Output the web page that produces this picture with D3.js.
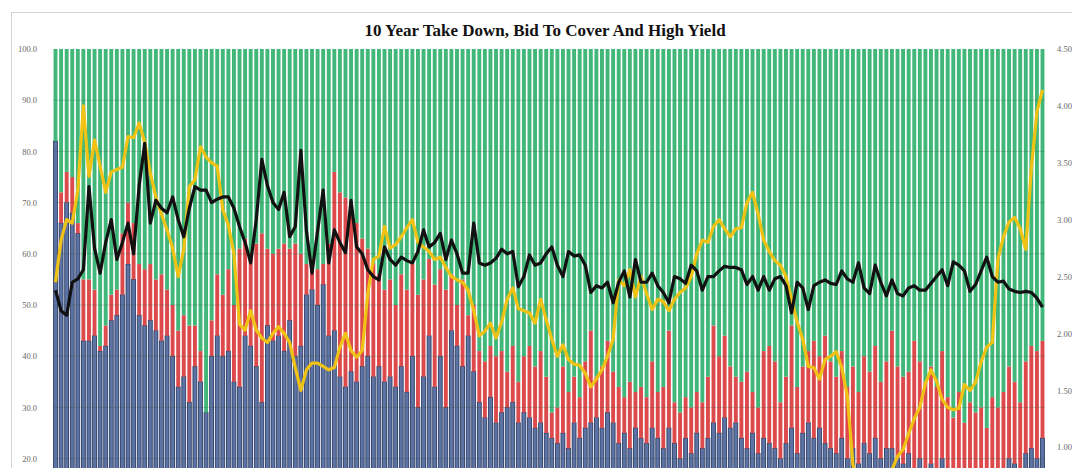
<!DOCTYPE html>
<html>
<head>
<meta charset="utf-8">
<script src="https://cdn.jsdelivr.net/npm/d3@7"></script>
<style>
  html, body { margin: 0; padding: 0; background: #fff; overflow: hidden; }
</style>
</head>
<body>
<div id="chart"></div>
<script>
/* take down shares (%) per 10y auction, oldest first */
const dealers = [
  82, 66, 70, 68, 64, 43, 43, 44, 41, 42,
  47, 48, 52, 58, 55, 48, 46, 47, 45, 43,
  44, 40, 34, 36, 31, 38, 35, 29, 40, 44,
  40, 41, 35, 34, 44, 42, 38, 31, 46, 43,
  44, 41, 47, 40, 42, 52, 53, 50, 54, 44,
  45, 36, 34, 37, 35, 38, 40, 36, 38, 35,
  36, 34, 38, 33, 40, 30, 36, 44, 34, 40,
  30, 45, 42, 38, 44, 37, 31, 28, 32, 27,
  29, 30, 31, 27, 29, 28, 26, 27, 25, 24,
  23, 25, 22, 27, 24, 26, 27, 28, 26, 29,
  27, 23, 25, 22, 26, 24, 23, 26, 24, 22,
  26, 23, 20, 24, 21, 25, 22, 24, 27, 25,
  28, 26, 27, 24, 22, 25, 21, 24, 23, 22,
  20, 23, 26, 21, 25, 27, 24, 26, 23, 22,
  21, 24, 20, 22, 19, 23, 21, 24, 20, 22,
  22, 20, 19, 21, 18, 20, 17, 19, 18, 20,
  16, 15, 17, 14, 16, 15, 16, 14, 17, 15,
  18, 20, 19, 17, 21, 22, 20, 24
];
const directs = [
  0, 6, 6, 7, 2, 12, 12, 9, 1, 4,
  5, 5, 12, 12, 11, 10, 11, 11, 10, 13,
  9, 10, 11, 12, 15, 8, 6, 0, 7, 12,
  12, 16, 15, 27, 19, 18, 24, 33, 15, 17,
  17, 21, 14, 22, 18, 6, 6, 7, 4, 18,
  31, 36, 37, 33, 31, 25, 21, 22, 18, 18,
  19, 16, 18, 20, 18, 22, 19, 15, 20, 17,
  23, 11, 8, 17, 4, 13, 10, 11, 10, 13,
  12, 7, 11, 8, 11, 14, 12, 14, 11, 5,
  7, 13, 11, 9, 8, 13, 18, 8, 12, 14,
  10, 11, 7, 13, 7, 10, 9, 13, 9, 12,
  19, 8, 9, 8, 9, 8, 9, 12, 19, 15,
  16, 12, 9, 11, 15, 8, 9, 17, 19, 17,
  11, 13, 20, 13, 13, 14, 19, 14, 21, 17,
  15, 17, 14, 16, 14, 17, 16, 18, 15, 17,
  23, 18, 17, 16, 25, 19, 18, 19, 16, 21,
  16, 13, 16, 13, 15, 14, 14, 12, 15, 15,
  15, 18, 16, 14, 18, 20, 21, 19
];
const indirects = [
  18, 28, 24, 25, 34, 45, 45, 47, 58, 54,
  48, 47, 36, 30, 34, 42, 43, 42, 45, 44,
  47, 50, 55, 52, 54, 54, 59, 71, 53, 44,
  48, 43, 50, 39, 37, 40, 38, 36, 39, 40,
  39, 38, 39, 38, 40, 42, 41, 43, 42, 38,
  24, 28, 29, 30, 34, 37, 39, 42, 44, 47,
  45, 50, 44, 47, 42, 48, 45, 41, 46, 43,
  47, 44, 50, 45, 52, 50, 59, 61, 58, 60,
  59, 63, 58, 65, 60, 58, 62, 59, 64, 71,
  70, 62, 67, 64, 68, 61, 55, 64, 62, 57,
  63, 66, 68, 65, 67, 66, 68, 61, 67, 66,
  55, 69, 71, 68, 70, 67, 69, 64, 54, 60,
  56, 62, 64, 65, 63, 67, 70, 59, 58, 61,
  69, 64, 54, 66, 62, 59, 57, 60, 56, 61,
  64, 59, 66, 62, 67, 60, 63, 58, 65, 61,
  55, 62, 64, 63, 57, 61, 65, 62, 66, 59,
  68, 72, 67, 73, 69, 71, 70, 74, 68, 70,
  67, 62, 65, 69, 61, 58, 59, 57
];
const bidToCover = [
  2.38, 2.20, 2.16, 2.45, 2.48, 2.56, 3.29, 2.75, 2.53, 2.80,
  3.00, 2.65, 2.80, 2.97, 2.70, 3.30, 3.67, 2.97, 3.17, 3.10,
  3.06, 3.20, 3.00, 2.85, 3.10, 3.29, 3.26, 3.26, 3.15, 3.18,
  3.20, 3.20, 3.10, 2.94, 2.80, 2.62, 3.00, 3.53, 3.30, 3.15,
  3.09, 3.24, 2.85, 2.94, 3.61, 2.90, 2.53, 2.90, 3.26, 2.62,
  2.91, 2.80, 2.71, 3.17, 2.76, 2.70, 2.56, 2.50, 2.47, 2.76,
  2.65, 2.60, 2.67, 2.64, 2.62, 2.72, 2.91, 2.76, 2.80, 2.88,
  2.65, 2.82, 2.70, 2.53, 2.53, 2.97, 2.62, 2.60, 2.62, 2.66,
  2.74, 2.70, 2.72, 2.41, 2.50, 2.69, 2.60, 2.62, 2.70, 2.76,
  2.60, 2.50, 2.72, 2.68, 2.69, 2.60, 2.36, 2.42, 2.40, 2.45,
  2.27, 2.45, 2.55, 2.32, 2.65, 2.45, 2.45, 2.53, 2.42, 2.36,
  2.27, 2.50, 2.48, 2.44, 2.60, 2.55, 2.38, 2.50, 2.50, 2.55,
  2.59, 2.58, 2.58, 2.56, 2.43, 2.50, 2.38, 2.50, 2.38, 2.48,
  2.50, 2.42, 2.18, 2.45, 2.40, 2.21, 2.42, 2.45, 2.47, 2.44,
  2.43, 2.55, 2.48, 2.45, 2.62, 2.40, 2.35, 2.60, 2.45, 2.33,
  2.47, 2.35, 2.33, 2.40, 2.42, 2.38, 2.38, 2.44, 2.50, 2.56,
  2.42, 2.63, 2.60, 2.55, 2.37, 2.43, 2.55, 2.67, 2.50, 2.45,
  2.46, 2.39, 2.37, 2.36, 2.37, 2.36, 2.31, 2.23
];
const highYield = [
  2.45, 2.82, 3.00, 2.97, 3.26, 4.00, 3.38, 3.70, 3.47, 3.24,
  3.42, 3.44, 3.46, 3.73, 3.72, 3.85, 3.68, 3.41, 3.20, 3.05,
  2.91, 2.75, 2.50, 2.74, 3.29, 3.35, 3.64, 3.55, 3.50, 3.47,
  3.09, 2.95, 2.70, 2.08, 2.03, 2.20, 2.03, 1.96, 1.92, 2.00,
  2.06, 2.00, 1.92, 1.70, 1.50, 1.68, 1.74, 1.74, 1.71, 1.68,
  1.70, 1.88, 2.00, 1.85, 1.79, 1.85, 2.35, 2.65, 2.68, 2.94,
  2.75, 2.78, 2.85, 2.93, 3.00, 2.80, 2.76, 2.72, 2.65, 2.67,
  2.58, 2.50, 2.47, 2.45, 2.38, 2.20, 1.98, 2.02, 2.09, 1.96,
  2.10, 2.30, 2.40, 2.22, 2.20, 2.18, 2.09, 2.30, 2.12, 1.95,
  1.80, 1.90, 1.77, 1.73, 1.72, 1.65, 1.53, 1.60, 1.68, 1.80,
  1.95, 2.47, 2.42, 2.56, 2.32, 2.50, 2.35, 2.21, 2.30, 2.28,
  2.20, 2.30, 2.36, 2.40, 2.50, 2.70, 2.82, 2.80, 2.94, 3.00,
  2.92, 2.85, 2.92, 2.93, 3.15, 3.24, 3.05, 2.82, 2.72, 2.64,
  2.60, 2.50, 2.30, 2.10, 1.95, 1.71, 1.70, 1.60, 1.77, 1.80,
  1.84, 1.70, 1.45, 0.85, 0.66, 0.62, 0.65, 0.68, 0.72, 0.70,
  0.80, 0.92, 0.98, 1.12, 1.25, 1.35, 1.56, 1.68, 1.58, 1.42,
  1.35, 1.33, 1.34, 1.55, 1.50, 1.57, 1.75, 1.88, 1.92, 2.65,
  2.85, 2.98, 3.02, 2.92, 2.74, 3.45, 3.95, 4.14
];
// only the ticks that fall inside the visible picture
const leftTicks = [20, 30, 40, 50, 60, 70, 80, 90, 100];
const rightTicks = [1.0, 1.5, 2.0, 2.5, 3.0, 3.5, 4.0, 4.5];
const seriesKeys = ['dealers', 'directs', 'indirects'];
const title = '10 Year Take Down, Bid To Cover And High Yield';

//STYLING
const width = 1072, height = 468;
const plot = { left: 53, right: 1045, top: 49, bottom: 561 };
const colors = { dealers: '#5d73a3', directs: '#dc4a4c', indirects: '#41b779' };
const strokes = { dealers: '#22335d', directs: 'none', indirects: 'none' };

const rows = dealers.map((d, i) => ({
  idx: i, dealers: d, directs: directs[i], indirects: indirects[i]
}));

const svg = d3.select('#chart').append('svg')
  .attr('width', width)
  .attr('height', height)
  .style('display', 'block')
  .style('font-family', '"Liberation Serif", "DejaVu Serif", serif');

// frame
svg.append('rect')
  .attr('x', 11.5).attr('y', 12.5)
  .attr('width', 1080).attr('height', 600)
  .attr('fill', '#fff')
  .attr('stroke', '#d4d4d4');

svg.append('text')
  .attr('x', 545).attr('y', 36)
  .attr('text-anchor', 'middle')
  .attr('font-weight', 'bold')
  .attr('font-size', 17)
  .attr('fill', '#111')
  .text(title);

const x = d3.scaleBand()
  .domain(rows.map(d => d.idx))
  .range([plot.left, plot.right])
  .paddingInner(0.3)
  .paddingOuter(0.1);

const yLeft = d3.scaleLinear().domain([0, 100]).range([plot.bottom, plot.top]);
const yRight = d3.scaleLinear().domain([0, 4.5]).range([plot.bottom, plot.top]);

const stack = d3.stack().keys(seriesKeys)(rows);

svg.append('g')
  .selectAll('g')
  .data(stack)
  .join('g')
    .attr('fill', s => colors[s.key])
    .attr('stroke', s => strokes[s.key])
    .attr('stroke-width', 0.8)
  .selectAll('rect')
  .data(s => s)
  .join('rect')
    .attr('x', d => x(d.data.idx))
    .attr('width', x.bandwidth())
    .attr('y', d => yLeft(d[1]))
    .attr('height', d => yLeft(d[0]) - yLeft(d[1]));

// faint horizontal gridlines
svg.append('g')
  .selectAll('line')
  .data(leftTicks.slice(0, -1))
  .join('line')
    .attr('x1', plot.left).attr('x2', plot.right)
    .attr('y1', d => yLeft(d)).attr('y2', d => yLeft(d))
    .attr('stroke', '#335544')
    .attr('stroke-opacity', 0.25)
    .attr('stroke-width', 1);

const line = scale => d3.line()
  .x((d, i) => x(i) + x.bandwidth() / 2)
  .y(d => scale(d));

svg.append('path')
  .datum(highYield)
  .attr('fill', 'none')
  .attr('stroke', '#f0c214')
  .attr('stroke-width', 3.2)
  .attr('stroke-linejoin', 'round')
  .attr('d', line(yRight));

svg.append('path')
  .datum(bidToCover)
  .attr('fill', 'none')
  .attr('stroke', '#111')
  .attr('stroke-width', 3.2)
  .attr('stroke-linejoin', 'round')
  .attr('d', line(yRight));

// axes
const leftAxis = svg.append('g')
  .attr('transform', `translate(${plot.left - 13},0)`)
  .call(d3.axisLeft(yLeft).tickValues(leftTicks).tickFormat(d3.format('.1f')).tickSize(0));
const rightAxis = svg.append('g')
  .attr('transform', `translate(${plot.right + 9},0)`)
  .call(d3.axisRight(yRight).tickValues(rightTicks).tickFormat(d3.format('.2f')).tickSize(0));

[leftAxis, rightAxis].forEach(a => {
  a.select('.domain').remove();
  a.selectAll('text')
    .attr('font-family', '"Liberation Serif", "DejaVu Serif", serif')
    .attr('font-size', 8.5)
    .attr('fill', '#666');
});
</script>
</body>
</html>
